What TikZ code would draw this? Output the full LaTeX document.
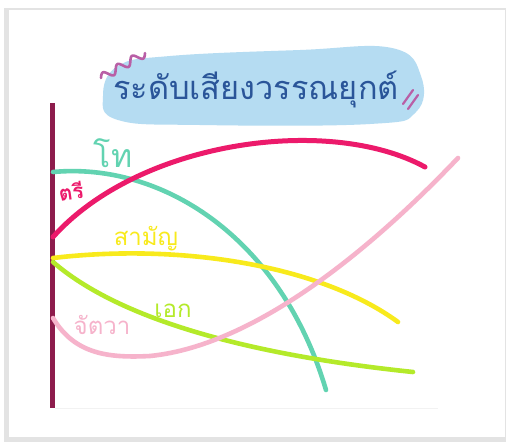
\documentclass[tikz,border=0pt]{standalone}
\usepackage{fontspec}
\newfontfamily\thaifont[Script=Thai]{Loma}
\usetikzlibrary{positioning}
\definecolor{axiscol}{HTML}{8D1C4C}
\definecolor{trecol}{HTML}{EC1A6B}
\definecolor{thocol}{HTML}{62D3B1}
\definecolor{samancol}{HTML}{F8EA1C}
\definecolor{ekcol}{HTML}{B4EA2A}
\definecolor{chattawacol}{HTML}{F6B3CB}
\definecolor{titlecol}{HTML}{2A5599}
\definecolor{blobcol}{HTML}{B5DCF2}
\definecolor{squigcol}{HTML}{B95FA6}

\begin{document}
\begin{tikzpicture}[x=1pt, y=-1pt,
  tone/.style={line width=4.6pt, line cap=round},
  tonelabel/.style={font=\thaifont\fontsize{24}{24}\selectfont, inner sep=0pt}]
\useasboundingbox (0,0) rectangle (509,445);
% card
\fill[gray!22] (4,8) rectangle (506,442);
\fill[white] (8.5,9.5) rectangle (504.5,437);
% title cloud
\fill[blobcol] plot[smooth cycle, tension=0.7] coordinates {(103,96) (118,66) (170,56) (300,50) (392,48) (421,76) (416,112) (370,124) (200,125) (118,120)};
\node[text=titlecol, font=\thaifont\fontsize{32.5}{32}\selectfont, inner sep=0pt] (title) at (256,89) {ระดับเสียงวรรณยุกต์};
\draw[squigcol, line width=2.6pt, line cap=round] plot[domain=0:1, samples=60, smooth] ({101+44*\x-0.49*4*sin(3*360*\x)}, {78-25*\x-0.868*4*sin(3*360*\x)});
\draw[squigcol, line width=2.2pt, line cap=round] (403,104) -- (413,90);
\draw[squigcol, line width=2.2pt, line cap=round] (408,109) -- (418,95);
% axis
\draw[gray!10, line width=1pt] (55,408) -- (438,408);
\draw[axiscol, line width=4.6pt] (52.5,103) -- (52.5,408);
% tones
\draw[tone, thocol] (53,172) .. controls (160,162) and (280,235) .. (326,390);
\draw[tone, samancol] (53,258) .. controls (180,243) and (320,265) .. (398,322);
\draw[tone, ekcol] (53,262) .. controls (120,320) and (250,355) .. (413,372);
\draw[tone, chattawacol] (53,318) .. controls (75,355) and (110,358) .. (150,356) .. controls (260,345) and (380,240) .. (458,158);
\draw[tone, trecol, line width=5pt] (53,237) .. controls (140,140) and (330,115) .. (425,167);
% labels
\node[tonelabel, text=thocol, font=\thaifont\fontsize{32}{32}\selectfont] (tho) at (113,153) {โท};
\node[tonelabel, text=trecol, font=\thaifont\bfseries\fontsize{21}{21}\selectfont, rotate=8] (tre) at (71,191) {ตรี};
\node[tonelabel, text=samancol] (saman) at (146,239) {สามัญ};
\node[tonelabel, text=ekcol] (ek) at (173,311) {เอก};
\node[tonelabel, text=chattawacol] (chattawa) at (102,325) {จัตวา};
\end{tikzpicture}
\end{document}
